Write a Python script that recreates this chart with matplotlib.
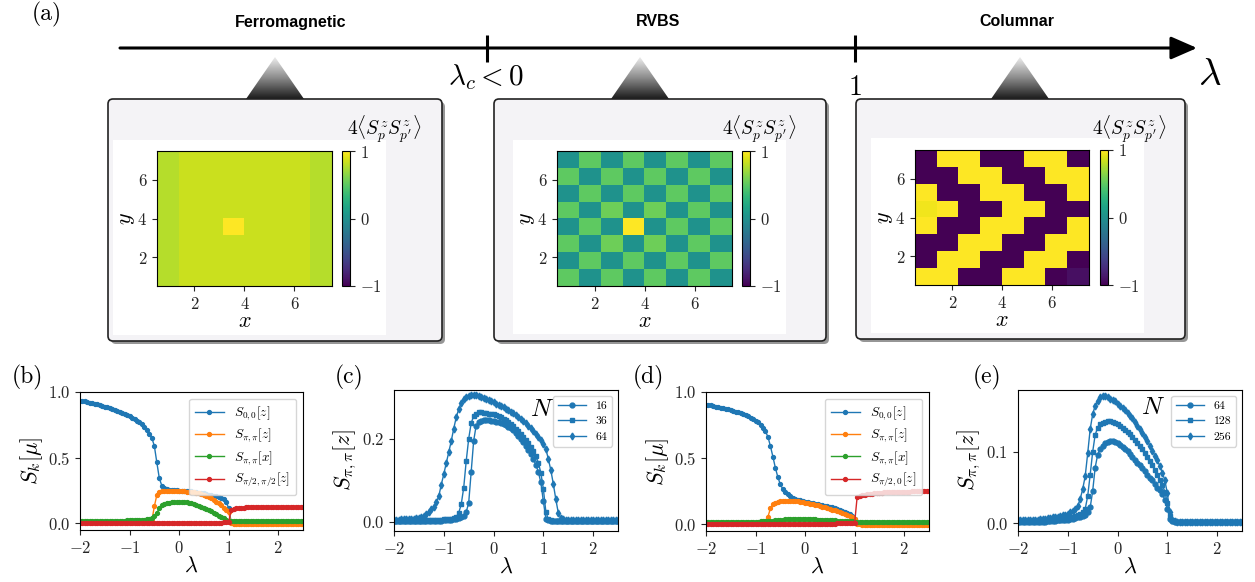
import numpy as np
import matplotlib.pyplot as plt
from matplotlib.colors import LinearSegmentedColormap
from matplotlib.patches import FancyBboxPatch, Polygon, Rectangle

plt.rcParams['font.family'] = 'serif'
plt.rcParams['font.serif'] = ['cmr10']
plt.rcParams['mathtext.fontset'] = 'cm'
plt.rcParams['axes.formatter.use_mathtext'] = True
plt.rcParams['axes.linewidth'] = 0.8

# ---------------- data ----------------
lam = np.linspace(-2.0, 2.5, 91)   # lambda scan grid, step 0.05

# (b) structure factors, first model
b_s00z = [0.935, 0.932, 0.928, 0.924, 0.920, 0.915, 0.910, 0.905, 0.900, 0.895,
          0.889, 0.883, 0.877, 0.870, 0.863, 0.856, 0.848, 0.840, 0.832, 0.823,
          0.814, 0.804, 0.793, 0.782, 0.770, 0.757, 0.735, 0.712, 0.684, 0.650,
          0.590, 0.465, 0.345, 0.288, 0.268, 0.261, 0.258, 0.255, 0.253, 0.252,
          0.250, 0.249, 0.248, 0.247, 0.245, 0.243, 0.241, 0.238, 0.235, 0.232,
          0.228, 0.224, 0.220, 0.215, 0.210, 0.205, 0.200, 0.195, 0.186, 0.165,
          0.115, 0.012, 0.010, 0.010, 0.010, 0.010, 0.010, 0.010, 0.010, 0.010,
          0.010, 0.010, 0.010, 0.010, 0.010, 0.010, 0.010, 0.010, 0.010, 0.010,
          0.010, 0.010, 0.010, 0.010, 0.010, 0.010, 0.010, 0.010, 0.010, 0.010,
          0.010]
b_sppz = [0.012, 0.012, 0.012, 0.012, 0.012, 0.012, 0.012, 0.012, 0.012, 0.012,
          0.012, 0.012, 0.012, 0.012, 0.012, 0.012, 0.012, 0.012, 0.012, 0.012,
          0.012, 0.012, 0.012, 0.012, 0.013, 0.013, 0.013, 0.014, 0.015, 0.020,
          0.130, 0.215, 0.240, 0.246, 0.248, 0.248, 0.248, 0.247, 0.247, 0.246,
          0.245, 0.244, 0.243, 0.242, 0.240, 0.238, 0.236, 0.233, 0.229, 0.225,
          0.219, 0.212, 0.203, 0.192, 0.180, 0.166, 0.152, 0.137, 0.121, 0.104,
          0.085, 0.000, -0.003, -0.004, -0.005, -0.005, -0.005, -0.005, -0.005, -0.005,
          -0.005, -0.005, -0.005, -0.005, -0.005, -0.005, -0.005, -0.005, -0.005, -0.005,
          -0.005, -0.005, -0.005, -0.005, -0.005, -0.005, -0.005, -0.005, -0.005, -0.005,
          -0.005]
b_sppx = [0.020, 0.020, 0.020, 0.020, 0.020, 0.020, 0.020, 0.020, 0.020, 0.020,
          0.020, 0.020, 0.020, 0.021, 0.021, 0.021, 0.022, 0.022, 0.022, 0.023,
          0.023, 0.024, 0.024, 0.025, 0.026, 0.027, 0.029, 0.032, 0.036, 0.042,
          0.055, 0.080, 0.115, 0.138, 0.148, 0.154, 0.158, 0.161, 0.163, 0.164,
          0.164, 0.163, 0.162, 0.160, 0.157, 0.153, 0.148, 0.142, 0.136, 0.128,
          0.120, 0.111, 0.102, 0.092, 0.082, 0.071, 0.060, 0.049, 0.038, 0.028,
          0.020, 0.015, 0.015, 0.015, 0.015, 0.015, 0.015, 0.015, 0.015, 0.015,
          0.015, 0.015, 0.015, 0.015, 0.015, 0.015, 0.015, 0.015, 0.015, 0.015,
          0.015, 0.015, 0.015, 0.015, 0.015, 0.015, 0.015, 0.015, 0.015, 0.015,
          0.015]
b_sqqz = [0.002, 0.002, 0.002, 0.002, 0.002, 0.002, 0.002, 0.002, 0.002, 0.002,
          0.002, 0.002, 0.002, 0.002, 0.002, 0.002, 0.002, 0.002, 0.002, 0.002,
          0.002, 0.002, 0.002, 0.002, 0.002, 0.002, 0.002, 0.002, 0.002, 0.002,
          0.003, 0.003, 0.003, 0.003, 0.003, 0.003, 0.003, 0.003, 0.003, 0.003,
          0.003, 0.003, 0.003, 0.003, 0.004, 0.004, 0.004, 0.004, 0.004, 0.004,
          0.004, 0.004, 0.005, 0.005, 0.005, 0.006, 0.006, 0.007, 0.008, 0.009,
          0.012, 0.100, 0.112, 0.117, 0.119, 0.120, 0.121, 0.122, 0.122, 0.123,
          0.123, 0.123, 0.124, 0.124, 0.124, 0.124, 0.124, 0.125, 0.125, 0.125,
          0.125, 0.125, 0.125, 0.125, 0.125, 0.125, 0.125, 0.125, 0.125, 0.125,
          0.125]

# (c) S_{pi,pi}[z] for three system sizes
c_n16 = [0.003, 0.003, 0.003, 0.003, 0.003, 0.003, 0.003, 0.003, 0.003, 0.003,
         0.003, 0.003, 0.003, 0.003, 0.003, 0.003, 0.003, 0.003, 0.003, 0.003,
         0.004, 0.004, 0.005, 0.005, 0.006, 0.007, 0.009, 0.011, 0.015, 0.024,
         0.045, 0.120, 0.195, 0.232, 0.241, 0.244, 0.245, 0.245, 0.245, 0.244,
         0.243, 0.242, 0.240, 0.238, 0.236, 0.233, 0.229, 0.226, 0.222, 0.215,
         0.208, 0.201, 0.193, 0.184, 0.174, 0.163, 0.151, 0.138, 0.120, 0.095,
         0.050, 0.008, 0.004, 0.003, 0.003, 0.003, 0.003, 0.003, 0.003, 0.003,
         0.003, 0.003, 0.003, 0.003, 0.003, 0.003, 0.003, 0.003, 0.003, 0.003,
         0.003, 0.003, 0.003, 0.003, 0.003, 0.003, 0.003, 0.003, 0.003, 0.003,
         0.003]
c_n36 = [0.003, 0.003, 0.003, 0.003, 0.003, 0.003, 0.003, 0.003, 0.003, 0.003,
         0.003, 0.003, 0.003, 0.004, 0.004, 0.004, 0.004, 0.005, 0.005, 0.005,
         0.006, 0.006, 0.007, 0.008, 0.009, 0.011, 0.022, 0.042, 0.082, 0.146,
         0.200, 0.238, 0.255, 0.261, 0.264, 0.264, 0.263, 0.262, 0.261, 0.260,
         0.259, 0.257, 0.255, 0.252, 0.249, 0.245, 0.241, 0.236, 0.231, 0.225,
         0.219, 0.212, 0.205, 0.197, 0.189, 0.180, 0.170, 0.158, 0.143, 0.118,
         0.080, 0.025, 0.006, 0.004, 0.003, 0.003, 0.003, 0.003, 0.003, 0.003,
         0.003, 0.003, 0.003, 0.003, 0.003, 0.003, 0.003, 0.003, 0.003, 0.003,
         0.003, 0.003, 0.003, 0.003, 0.003, 0.003, 0.003, 0.003, 0.003, 0.003,
         0.003]
c_n64 = [0.005, 0.005, 0.005, 0.006, 0.006, 0.006, 0.007, 0.007, 0.008, 0.009,
         0.010, 0.012, 0.015, 0.019, 0.024, 0.030, 0.037, 0.047, 0.062, 0.090,
         0.115, 0.142, 0.168, 0.195, 0.225, 0.252, 0.272, 0.287, 0.296, 0.301,
         0.304, 0.306, 0.306, 0.305, 0.303, 0.301, 0.299, 0.297, 0.294, 0.291,
         0.288, 0.285, 0.282, 0.279, 0.276, 0.273, 0.270, 0.266, 0.262, 0.258,
         0.254, 0.249, 0.244, 0.238, 0.232, 0.226, 0.219, 0.212, 0.205, 0.197,
         0.188, 0.176, 0.152, 0.125, 0.092, 0.055, 0.022, 0.010, 0.007, 0.005,
         0.004, 0.004, 0.004, 0.004, 0.004, 0.004, 0.004, 0.004, 0.004, 0.004,
         0.004, 0.004, 0.004, 0.004, 0.004, 0.004, 0.004, 0.004, 0.004, 0.004,
         0.004]

# (d) structure factors, second model
d_s00z = [0.904, 0.901, 0.898, 0.894, 0.890, 0.886, 0.882, 0.878, 0.873, 0.868,
          0.863, 0.857, 0.851, 0.845, 0.838, 0.831, 0.823, 0.815, 0.806, 0.796,
          0.784, 0.770, 0.752, 0.730, 0.702, 0.660, 0.590, 0.510, 0.425, 0.355,
          0.300, 0.265, 0.243, 0.225, 0.211, 0.200, 0.192, 0.185, 0.179, 0.174,
          0.170, 0.166, 0.162, 0.158, 0.154, 0.151, 0.147, 0.144, 0.140, 0.136,
          0.132, 0.127, 0.122, 0.116, 0.109, 0.101, 0.093, 0.084, 0.073, 0.058,
          0.038, 0.010, 0.010, 0.010, 0.010, 0.010, 0.010, 0.010, 0.010, 0.010,
          0.010, 0.010, 0.010, 0.010, 0.010, 0.010, 0.010, 0.010, 0.010, 0.010,
          0.010, 0.010, 0.010, 0.010, 0.010, 0.010, 0.010, 0.010, 0.010, 0.010,
          0.010]
d_sppz = [0.010, 0.010, 0.010, 0.010, 0.010, 0.010, 0.010, 0.010, 0.010, 0.010,
          0.010, 0.010, 0.010, 0.010, 0.010, 0.010, 0.010, 0.010, 0.010, 0.010,
          0.010, 0.011, 0.011, 0.012, 0.015, 0.055, 0.118, 0.148, 0.160, 0.168,
          0.172, 0.175, 0.177, 0.178, 0.178, 0.177, 0.175, 0.172, 0.169, 0.165,
          0.162, 0.158, 0.154, 0.150, 0.146, 0.141, 0.136, 0.131, 0.126, 0.120,
          0.115, 0.109, 0.103, 0.097, 0.091, 0.084, 0.077, 0.070, 0.062, 0.052,
          0.038, 0.000, -0.003, -0.005, -0.005, -0.005, -0.005, -0.005, -0.005, -0.005,
          -0.005, -0.005, -0.005, -0.005, -0.005, -0.005, -0.005, -0.005, -0.005, -0.005,
          -0.005, -0.005, -0.005, -0.005, -0.005, -0.005, -0.005, -0.005, -0.005, -0.005,
          -0.005]
d_sppx = [0.015, 0.015, 0.015, 0.015, 0.015, 0.015, 0.015, 0.015, 0.015, 0.015,
          0.015, 0.015, 0.015, 0.016, 0.016, 0.016, 0.016, 0.017, 0.017, 0.017,
          0.018, 0.018, 0.019, 0.020, 0.021, 0.022, 0.024, 0.026, 0.028, 0.030,
          0.032, 0.034, 0.036, 0.038, 0.039, 0.040, 0.040, 0.040, 0.040, 0.039,
          0.039, 0.038, 0.037, 0.036, 0.035, 0.034, 0.033, 0.032, 0.031, 0.030,
          0.029, 0.028, 0.027, 0.026, 0.025, 0.024, 0.023, 0.022, 0.021, 0.020,
          0.018, 0.012, 0.012, 0.012, 0.012, 0.012, 0.012, 0.012, 0.012, 0.012,
          0.012, 0.012, 0.012, 0.012, 0.012, 0.012, 0.012, 0.012, 0.012, 0.012,
          0.012, 0.012, 0.012, 0.012, 0.012, 0.012, 0.012, 0.012, 0.012, 0.012,
          0.012]
d_sq0z = [0.002, 0.002, 0.002, 0.002, 0.002, 0.002, 0.002, 0.002, 0.002, 0.002,
          0.002, 0.002, 0.002, 0.002, 0.002, 0.002, 0.002, 0.002, 0.002, 0.002,
          0.002, 0.002, 0.002, 0.002, 0.002, 0.002, 0.002, 0.002, 0.002, 0.002,
          0.002, 0.002, 0.002, 0.002, 0.002, 0.002, 0.002, 0.002, 0.002, 0.002,
          0.003, 0.003, 0.003, 0.003, 0.003, 0.003, 0.003, 0.003, 0.003, 0.003,
          0.003, 0.003, 0.003, 0.004, 0.004, 0.004, 0.005, 0.005, 0.006, 0.007,
          0.010, 0.205, 0.214, 0.219, 0.223, 0.226, 0.229, 0.231, 0.233, 0.235,
          0.236, 0.238, 0.239, 0.240, 0.241, 0.242, 0.243, 0.243, 0.244, 0.245,
          0.245, 0.246, 0.246, 0.247, 0.247, 0.247, 0.248, 0.248, 0.248, 0.248,
          0.249]

# (e) S_{pi,pi}[z] for three system sizes
e_n64 = [0.002, 0.002, 0.002, 0.002, 0.002, 0.002, 0.002, 0.002, 0.002, 0.002,
         0.002, 0.002, 0.003, 0.003, 0.003, 0.003, 0.004, 0.004, 0.004, 0.005,
         0.005, 0.006, 0.006, 0.007, 0.008, 0.009, 0.010, 0.012, 0.015, 0.022,
         0.045, 0.078, 0.096, 0.104, 0.109, 0.112, 0.114, 0.115, 0.115, 0.114,
         0.112, 0.110, 0.107, 0.104, 0.101, 0.097, 0.093, 0.089, 0.085, 0.081,
         0.077, 0.073, 0.068, 0.064, 0.060, 0.055, 0.050, 0.046, 0.041, 0.033,
         0.020, 0.006, 0.003, 0.002, 0.002, 0.002, 0.002, 0.002, 0.002, 0.002,
         0.002, 0.002, 0.002, 0.002, 0.002, 0.002, 0.002, 0.002, 0.002, 0.002,
         0.002, 0.002, 0.002, 0.002, 0.002, 0.002, 0.002, 0.002, 0.002, 0.002,
         0.002]
e_n128 = [0.003, 0.003, 0.003, 0.003, 0.003, 0.003, 0.003, 0.003, 0.003, 0.003,
          0.003, 0.003, 0.003, 0.004, 0.004, 0.004, 0.005, 0.005, 0.006, 0.006,
          0.007, 0.008, 0.009, 0.010, 0.011, 0.013, 0.015, 0.020, 0.038, 0.068,
          0.100, 0.124, 0.134, 0.139, 0.141, 0.142, 0.143, 0.143, 0.142, 0.141,
          0.139, 0.137, 0.134, 0.131, 0.128, 0.125, 0.121, 0.117, 0.113, 0.109,
          0.104, 0.099, 0.093, 0.087, 0.081, 0.074, 0.067, 0.061, 0.054, 0.044,
          0.028, 0.010, 0.004, 0.003, 0.002, 0.002, 0.002, 0.002, 0.002, 0.002,
          0.002, 0.002, 0.002, 0.002, 0.002, 0.002, 0.002, 0.002, 0.002, 0.002,
          0.002, 0.002, 0.002, 0.002, 0.002, 0.002, 0.002, 0.002, 0.002, 0.002,
          0.002]
e_n256 = [0.004, 0.004, 0.004, 0.004, 0.005, 0.005, 0.005, 0.005, 0.005, 0.006,
          0.006, 0.006, 0.007, 0.007, 0.008, 0.008, 0.009, 0.010, 0.011, 0.012,
          0.013, 0.015, 0.017, 0.020, 0.024, 0.034, 0.048, 0.066, 0.098, 0.132,
          0.153, 0.165, 0.172, 0.177, 0.178, 0.178, 0.177, 0.175, 0.173, 0.171,
          0.168, 0.165, 0.162, 0.159, 0.155, 0.151, 0.147, 0.142, 0.137, 0.132,
          0.127, 0.121, 0.115, 0.109, 0.102, 0.095, 0.088, 0.080, 0.071, 0.060,
          0.042, 0.015, 0.004, 0.003, 0.002, 0.002, 0.002, 0.002, 0.002, 0.002,
          0.002, 0.002, 0.002, 0.002, 0.002, 0.002, 0.002, 0.002, 0.002, 0.002,
          0.002, 0.002, 0.002, 0.002, 0.002, 0.002, 0.002, 0.002, 0.002, 0.002,
          0.002]

b_labels = [r'$S_{0,0}[z]$', r'$S_{\pi,\pi}[z]$', r'$S_{\pi,\pi}[x]$', r'$S_{\pi/2,\pi/2}[z]$']
d_labels = [r'$S_{0,0}[z]$', r'$S_{\pi,\pi}[z]$', r'$S_{\pi,\pi}[x]$', r'$S_{\pi/2,0}[z]$']
c_sizes = ['16', '36', '64']
e_sizes = ['64', '128', '256']

# real-space correlations 4<S^z_p S^z_p'>, rows listed from top (y=7) to bottom
ferro = [[0.78, 0.84, 0.84, 0.84, 0.84, 0.84, 0.84, 0.78],
         [0.78, 0.84, 0.84, 0.84, 0.84, 0.84, 0.84, 0.78],
         [0.78, 0.84, 0.84, 0.84, 0.84, 0.84, 0.84, 0.78],
         [0.78, 0.84, 0.84, 0.84, 0.84, 0.84, 0.84, 0.78],
         [0.78, 0.84, 0.84, 1.00, 0.84, 0.84, 0.84, 0.78],
         [0.78, 0.84, 0.84, 0.84, 0.84, 0.84, 0.84, 0.78],
         [0.78, 0.84, 0.84, 0.84, 0.84, 0.84, 0.84, 0.78],
         [0.78, 0.84, 0.84, 0.84, 0.84, 0.84, 0.84, 0.78]]
rvbs = [[0.02, 0.50, 0.02, 0.50, 0.02, 0.50, 0.02, 0.50],
        [0.50, 0.02, 0.50, 0.02, 0.50, 0.02, 0.50, 0.02],
        [0.02, 0.50, 0.02, 0.50, 0.02, 0.50, 0.02, 0.50],
        [0.50, 0.02, 0.56, 0.02, 0.56, 0.02, 0.50, 0.02],
        [0.02, 0.50, 0.02, 1.00, 0.02, 0.50, 0.02, 0.50],
        [0.50, 0.02, 0.56, 0.02, 0.56, 0.02, 0.50, 0.02],
        [0.02, 0.50, 0.02, 0.50, 0.02, 0.50, 0.02, 0.50],
        [0.50, 0.02, 0.50, 0.02, 0.50, 0.02, 0.50, 0.02]]
colum = [[-1.0, 1.0, 1.0, -1.0, -1.0, 1.0, 1.0, -1.0],
         [-1.0, -1.0, 1.0, 1.0, -1.0, -1.0, 1.0, 1.0],
         [1.0, -1.0, -1.0, 1.0, 1.0, -1.0, -1.0, 1.0],
         [0.96, 1.0, -1.0, -1.0, 1.0, 1.0, -1.0, -1.0],
         [1.0, -1.0, -1.0, 1.0, 1.0, -1.0, -1.0, 1.0],
         [-1.0, -1.0, 1.0, 1.0, -1.0, -1.0, 1.0, 1.0],
         [-1.0, 1.0, 1.0, -1.0, -1.0, 1.0, 1.0, -1.0],
         [1.0, 1.0, -1.0, -1.0, 1.0, 1.0, -1.0, -0.92]]
phases = ['Ferromagnetic', 'RVBS', 'Columnar']

# ---------------- layout helpers (pixel coordinates) ----------------
W, H = 1255, 582
fig = plt.figure(figsize=(W / 100, H / 100), dpi=100)


def px_axes(x0, y0, x1, y1):
    return fig.add_axes([x0 / W, 1 - y1 / H, (x1 - x0) / W, (y1 - y0) / H])


def px_text(x, y, s, **kw):
    fig.text(x / W, 1 - y / H, s, ha=kw.pop('ha', 'center'), va=kw.pop('va', 'center'), **kw)


# background layer for the schematic
bg = fig.add_axes([0, 0, 1, 1], zorder=-1)
bg.set_xlim(0, W)
bg.set_ylim(H, 0)
bg.axis('off')

bg.annotate('', xy=(1197, 48), xytext=(120, 48),
            arrowprops=dict(arrowstyle='-|>,head_length=0.8,head_width=0.35', lw=2.2,
                            color='k', shrinkA=0, shrinkB=0, mutation_scale=20))
for xt in (487, 855):
    bg.plot([xt, xt], [35, 62], color='k', lw=2.2, solid_capstyle='butt')
bg.text(486, 77, r'$\lambda_c < 0$', fontsize=21, ha='center', va='center')
bg.text(855, 88, r'$1$', fontsize=20, ha='center', va='center')
bg.text(1210, 75, r'$\lambda$', fontsize=28, ha='center', va='center')

label_x = [291, 658, 1017]
tri_x = [275, 640, 1020]
boxes = [(108, 99, 442, 341), (494, 99, 826, 341), (856, 99, 1185, 339)]
panels = [(113, 140, 386, 335), (513, 140, 786, 334), (871, 138, 1144, 333)]
tri_cmap = LinearSegmentedColormap.from_list('tri', ['#ececec', '#8a8a8a', '#1c1c1c'])
grad = np.linspace(0, 1, 64).reshape(-1, 1)

for name, lx, tx, (x0, y0, x1, y1), (p0, q0, p1, q1) in zip(phases, label_x, tri_x, boxes, panels):
    bg.text(lx, 22, name, fontsize=11.5, fontweight='bold', family='Liberation Sans',
            ha='center', va='center')
    shadow = FancyBboxPatch((x0 + 3, y0 + 3), x1 - x0, y1 - y0,
                            boxstyle='round,pad=0,rounding_size=5', fc='0.25', ec='none', alpha=0.55)
    box = FancyBboxPatch((x0, y0), x1 - x0, y1 - y0, boxstyle='round,pad=0,rounding_size=5',
                         fc='#f4f3f6', ec='#222222', lw=1.2)
    bg.add_patch(shadow)
    bg.add_patch(box)
    bg.add_patch(Rectangle((p0, q0), p1 - p0, q1 - q0, fc='white', ec='none'))
    tri = Polygon([(tx - 29, 99), (tx, 57), (tx + 29, 99)], closed=True, fc='none', ec='none')
    bg.add_patch(tri)
    im = bg.imshow(grad, cmap=tri_cmap, extent=(tx - 29, tx + 29, 99, 57), aspect='auto',
                   interpolation='bilinear')
    im.set_clip_path(tri)

# ---------------- heat maps ----------------
heat_axes = [(157, 151, 332, 286), (557, 151, 732, 286), (915, 150, 1089, 285)]
cbar_axes = [(342, 151, 350, 286), (742, 151, 750, 286), (1100, 150, 1108, 285)]
cbar_label_x = [347, 722, 1092]
for arr, hpos, cpos, clx in zip([ferro, rvbs, colum], heat_axes, cbar_axes, cbar_label_x):
    ax = px_axes(*hpos)
    im = ax.imshow(np.array(arr), cmap='viridis', vmin=-1, vmax=1, origin='upper',
                   extent=(0.5, 7.5, 0.5, 7.5), aspect='auto', interpolation='nearest')
    ax.set_xticks([2, 4, 6])
    ax.set_yticks([2, 4, 6])
    ax.tick_params(labelsize=12, length=3.5, width=0.8, colors='0.15')
    ax.set_xlabel(r'$x$', fontsize=16, labelpad=0)
    ax.set_ylabel(r'$y$', fontsize=16, labelpad=0)
    cax = px_axes(*cpos)
    cb = fig.colorbar(im, cax=cax, ticks=[-1, 0, 1])
    cb.ax.tick_params(labelsize=12, length=3.5, width=0.8, colors='0.15')
    cb.outline.set_linewidth(0.8)
    bg.text(clx, 129, r"$4\langle S^z_p S^z_{p'}\rangle$", fontsize=14, ha='left', va='center')

# ---------------- line plots ----------------
colors = ['#1f77b4', '#ff7f0e', '#2ca02c', '#d62728']


def style(ax, ylabel, ylim, yticks):
    ax.set_xlim(-2, 2.5)
    ax.set_ylim(*ylim)
    ax.set_xticks([-2, -1, 0, 1, 2])
    ax.set_yticks(yticks)
    ax.tick_params(labelsize=12, length=3.5, width=0.8, colors='0.15')
    ax.set_xlabel(r'$\lambda$', fontsize=16, labelpad=0)
    ax.set_ylabel(ylabel, fontsize=16, labelpad=2)


axb = px_axes(80, 392, 303, 530)
for ys, lab, col in zip([b_s00z, b_sppz, b_sppx, b_sqqz], b_labels, colors):
    axb.plot(lam, ys, '-o', color=col, lw=1, ms=2.8, label=lab)
axb.legend(loc='upper right', fontsize=9.5, handlelength=2.2, borderpad=0.45, labelspacing=0.35)
style(axb, r'$S_k[\mu]$', (-0.05, 1.0), [0.0, 0.5, 1.0])

axd = px_axes(706, 392, 929, 531)
for ys, lab, col in zip([d_s00z, d_sppz, d_sppx, d_sq0z], d_labels, colors):
    axd.plot(lam, ys, '-o', color=col, lw=1, ms=2.8, label=lab)
axd.legend(loc='upper right', fontsize=9.5, handlelength=2.2, borderpad=0.45, labelspacing=0.35)
style(axd, r'$S_k[\mu]$', (-0.053, 1.0), [0.0, 0.5, 1.0])

axc = px_axes(394, 390, 618, 531)
for ys, lab, mk in zip([c_n16, c_n36, c_n64], c_sizes, ['o', 's', 'd']):
    axc.plot(lam, ys, '-', marker=mk, color=colors[0], lw=1, ms=3.5, label=lab)
axc.legend(loc='upper right', fontsize=8.5, handlelength=2.4, labelspacing=0.45)
style(axc, r'$S_{\pi,\pi}[z]$', (-0.022, 0.318), [0.0, 0.2])

axe = px_axes(1018, 390, 1242, 531)
for ys, lab, mk in zip([e_n64, e_n128, e_n256], e_sizes, ['o', 's', 'd']):
    axe.plot(lam, ys, '-', marker=mk, color=colors[0], lw=1, ms=3.5, label=lab)
axe.legend(loc='upper right', fontsize=8.5, handlelength=2.4, labelspacing=0.45)
style(axe, r'$S_{\pi,\pi}[z]$', (-0.011, 0.187), [0.0, 0.1])

px_text(542, 410, r'$N$', fontsize=18)
px_text(1153, 408, r'$N$', fontsize=18)

for s, x, y in [('(a)', 47, 14), ('(b)', 27, 377), ('(c)', 349, 377), ('(d)', 648, 377), ('(e)', 987, 377)]:
    px_text(x, y, s, fontsize=17)

fig.savefig('out.png', dpi=100)
